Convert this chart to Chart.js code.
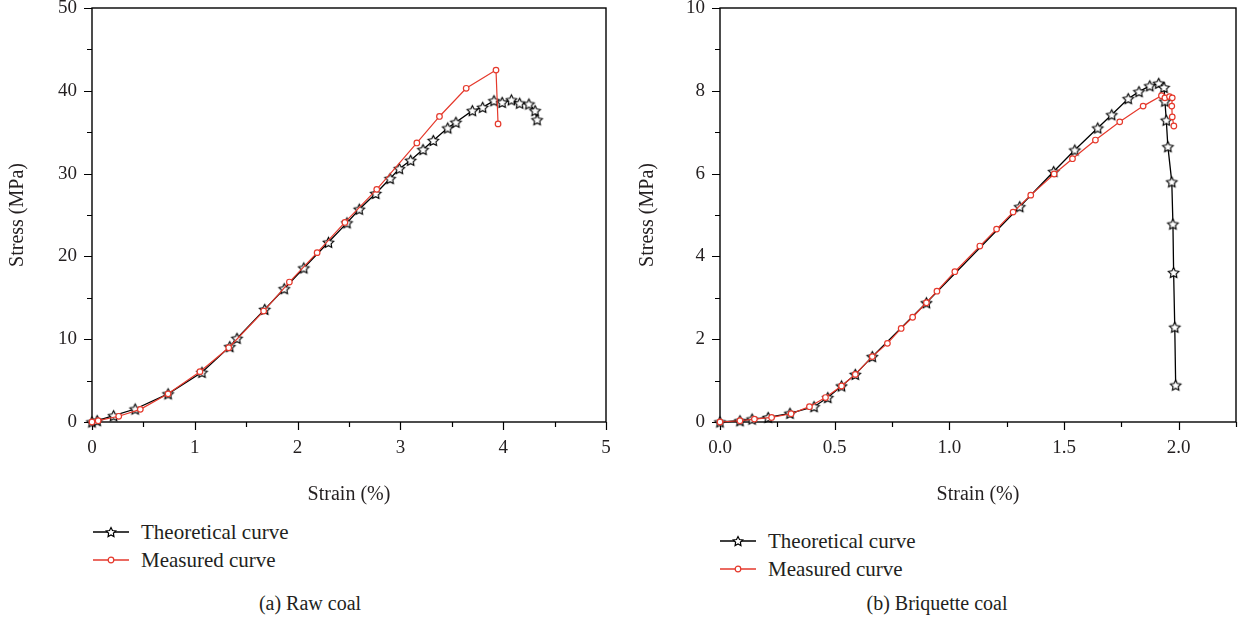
<!DOCTYPE html>
<html lang="en">
<head>
    <meta charset="UTF-8">
    <title>Stress-strain curves</title>
    <script src="https://cdn.jsdelivr.net/npm/chart.js"></script>
    <style>
        body { margin: 0; background: #fff; font-family: 'Liberation Serif', 'DejaVu Serif', serif; color: #231f20; }
        .page { position: relative; width: 1244px; height: 624px; overflow: hidden; }
        .box { position: absolute; top: 0; }
        .legend { position: absolute; font-size: 21px; }
        .legend .row { display: flex; align-items: center; height: 28px; }
        .legend svg { margin-right: 12px; }
        .caption { position: absolute; font-size: 20px; transform: translateX(-50%); white-space: nowrap; }
    </style>
</head>
<body>
<div class="page">
    <div class="box" style="left:0"><canvas id="rawChart" width="620" height="510"></canvas></div>
    <div class="box" style="left:620px"><canvas id="briqChart" width="624" height="510"></canvas></div>

    <!-- legends -->
    <div class="legend" style="left:93px; top:518px">
        <div class="row">
            <svg width="36" height="14"><line x1="0" y1="7" x2="36" y2="7" stroke="#000" stroke-width="1.3"/><polygon id="starA" fill="#fff" stroke="#000" stroke-width="1.2"/></svg>Theoretical curve
        </div>
        <div class="row">
            <svg width="36" height="14"><line x1="0" y1="7" x2="36" y2="7" stroke="#e5392c" stroke-width="1.3"/><circle cx="18" cy="7" r="2.8" fill="#fff" stroke="#e5392c" stroke-width="1.2"/></svg>Measured curve
        </div>
    </div>
    <div class="legend" style="left:720px; top:527px">
        <div class="row">
            <svg width="36" height="14"><line x1="0" y1="7" x2="36" y2="7" stroke="#000" stroke-width="1.3"/><polygon id="starB" fill="#fff" stroke="#000" stroke-width="1.2"/></svg>Theoretical curve
        </div>
        <div class="row">
            <svg width="36" height="14"><line x1="0" y1="7" x2="36" y2="7" stroke="#e5392c" stroke-width="1.3"/><circle cx="18" cy="7" r="2.8" fill="#fff" stroke="#e5392c" stroke-width="1.2"/></svg>Measured curve
        </div>
    </div>

    <div class="caption" style="left:310px; top:592px">(a) Raw coal</div>
    <div class="caption" style="left:937px; top:592px">(b) Briquette coal</div>
</div>

<script>
// (a) Raw coal
const rawTheoStrain = [0, 0.05, 0.21, 0.42, 0.74, 1.07, 1.34, 1.41, 1.68, 1.87, 2.06, 2.30, 2.48, 2.60, 2.76, 2.90, 2.99, 3.10, 3.22, 3.32, 3.46, 3.54, 3.70, 3.80, 3.91, 3.99, 4.08, 4.16, 4.25, 4.31, 4.33];
const rawTheoStress = [0, 0.16, 0.76, 1.57, 3.4, 6.0, 9.1, 10.1, 13.6, 16.1, 18.6, 21.7, 24.05, 25.7, 27.6, 29.4, 30.6, 31.6, 32.9, 34.0, 35.5, 36.2, 37.6, 38.0, 38.8, 38.6, 38.9, 38.5, 38.4, 37.6, 36.5];
const rawMeasStrain = [0, 0.06, 0.26, 0.47, 0.74, 1.05, 1.33, 1.67, 1.92, 2.19, 2.46, 2.77, 3.16, 3.38, 3.64, 3.93, 3.95];
const rawMeasStress = [0, 0.16, 0.69, 1.53, 3.4, 6.08, 8.97, 13.4, 16.9, 20.45, 24.1, 28.1, 33.7, 36.9, 40.3, 42.5, 36.0];

// (b) Briquette coal
const briqTheoStrain = [0, 0.087, 0.14, 0.21, 0.305, 0.41, 0.47, 0.53, 0.59, 0.664, 0.90, 1.307, 1.455, 1.547, 1.647, 1.708, 1.78, 1.827, 1.874, 1.913, 1.936, 1.94, 1.946, 1.953, 1.97, 1.975, 1.978, 1.983, 1.987];
const briqTheoStress = [0, 0.03, 0.07, 0.11, 0.21, 0.37, 0.59, 0.87, 1.15, 1.58, 2.88, 5.2, 6.05, 6.57, 7.1, 7.42, 7.81, 7.98, 8.12, 8.18, 8.08, 7.75, 7.29, 6.65, 5.8, 4.78, 3.61, 2.29, 0.89];
const briqMeasStrain = [0, 0.087, 0.15, 0.225, 0.31, 0.39, 0.46, 0.53, 0.59, 0.664, 0.73, 0.79, 0.84, 0.90, 0.946, 1.024, 1.133, 1.206, 1.278, 1.355, 1.457, 1.537, 1.637, 1.743, 1.845, 1.925, 1.94, 1.96, 1.972, 1.97, 1.972, 1.979];
const briqMeasStress = [0, 0.03, 0.07, 0.11, 0.2, 0.37, 0.59, 0.87, 1.15, 1.58, 1.9, 2.26, 2.53, 2.88, 3.16, 3.63, 4.25, 4.66, 5.07, 5.48, 5.99, 6.36, 6.81, 7.25, 7.63, 7.88, 7.83, 7.86, 7.83, 7.63, 7.37, 7.15];

const seriesNames = ["Theoretical curve", "Measured curve"];
const rawXTicks = [0, 1, 2, 3, 4, 5];
const rawYTicks = [0, 10, 20, 30, 40, 50];
const briqXTicks = [0, 0.5, 1.0, 1.5, 2.0];
const briqYTicks = [0, 2, 4, 6, 8, 10];

const RED = "#e5392c";
const FONT = "'Liberation Serif', 'DejaVu Serif', serif";
const TEXT = "#231f20";

function starPoints(cx, cy, r) {
    const pts = [];
    for (let i = 0; i < 10; i++) {
        const a = -Math.PI / 2 + i * Math.PI / 5;
        const rr = i % 2 ? r * 0.5 : r;
        pts.push([cx + rr * Math.cos(a), cy + rr * Math.sin(a)]);
    }
    return pts;
}

// star marker image for chart points
function makeStar(r) {
    const size = Math.ceil(r * 2 + 4);
    const c = document.createElement("canvas");
    c.width = c.height = size;
    const ctx = c.getContext("2d");
    ctx.beginPath();
    starPoints(size / 2, size / 2 + 0.5, r).forEach((p, i) => i ? ctx.lineTo(p[0], p[1]) : ctx.moveTo(p[0], p[1]));
    ctx.closePath();
    ctx.fillStyle = "#fff";
    ctx.fill();
    ctx.lineWidth = 1.15;
    ctx.strokeStyle = "#000";
    ctx.stroke();
    return c;
}
const starImg = makeStar(5.5);

// legend stars
["starA", "starB"].forEach(id => {
    document.getElementById(id).setAttribute("points", starPoints(18, 7.5, 5).map(p => p.join(",")).join(" "));
});

function toPoints(xs, ys) {
    return xs.map((x, i) => ({ x: x, y: ys[i] }));
}

// frame and ticks (major long, minor short)
const frameTicks = {
    id: "frameTicks",
    beforeDatasetsDraw(chart, args, opts) {
        const { ctx, chartArea: a, scales } = chart;
        const xs = scales.x, ys = scales.y;
        ctx.save();
        ctx.strokeStyle = "#000";
        ctx.lineWidth = 1.4;
        ctx.strokeRect(a.left, a.top, a.right - a.left, a.bottom - a.top);
        ctx.lineWidth = 1.2;
        ctx.beginPath();
        for (let v = xs.min; v <= xs.max + 1e-9; v += opts.xStep) {
            const major = Math.abs(v / opts.xMajor - Math.round(v / opts.xMajor)) < 1e-6;
            const px = Math.round(xs.getPixelForValue(v)) + 0.5;
            ctx.moveTo(px, a.bottom);
            ctx.lineTo(px, a.bottom + (major ? 8 : 5));
        }
        for (let v = ys.min; v <= ys.max + 1e-9; v += opts.yStep) {
            const major = Math.abs(v / opts.yMajor - Math.round(v / opts.yMajor)) < 1e-6;
            const py = Math.round(ys.getPixelForValue(v)) + 0.5;
            ctx.moveTo(a.left, py);
            ctx.lineTo(a.left - (major ? 8 : 5), py);
        }
        ctx.stroke();
        ctx.restore();
    }
};

function makeChart(id, theo, meas, cfg) {
    return new Chart(document.getElementById(id), {
        type: "scatter",
        data: {
            datasets: [
                {
                    label: seriesNames[0], data: theo, showLine: true, order: 2, clip: false,
                    borderColor: "#000", borderWidth: 1.3, pointStyle: starImg, pointRadius: 5,
                    backgroundColor: "#fff"
                },
                {
                    label: seriesNames[1], data: meas, showLine: true, order: 1, clip: false,
                    borderColor: RED, borderWidth: 1.2, pointStyle: "circle", pointRadius: 2.8,
                    pointBorderWidth: 1.2, pointBackgroundColor: "#fff", pointBorderColor: RED
                }
            ]
        },
        options: {
            responsive: false,
            animation: false,
            layout: { padding: { top: 8, right: cfg.padRight, left: 0, bottom: 0 } },
            plugins: {
                legend: { display: false },
                tooltip: { enabled: false },
                frameTicks: cfg.ticks
            },
            scales: {
                x: {
                    type: "linear", min: cfg.xMin, max: cfg.xMax,
                    grid: { display: false, drawTicks: false },
                    border: { display: false },
                    afterBuildTicks: s => { s.ticks = cfg.xTicks.map(v => ({ value: v })); },
                    ticks: {
                        padding: 15, color: TEXT, font: { family: FONT, size: 19 },
                        callback: v => v.toFixed(cfg.xDec)
                    },
                    title: { display: true, text: "Strain (%)", color: TEXT, font: { family: FONT, size: 20 }, padding: { top: 0, bottom: 3 } },
                    afterFit: s => { s.height = 88; s.paddingLeft = 0; s.paddingRight = 0; }
                },
                y: {
                    type: "linear", min: cfg.yMin, max: cfg.yMax,
                    grid: { display: false, drawTicks: false },
                    border: { display: false },
                    afterBuildTicks: s => { s.ticks = cfg.yTicks.map(v => ({ value: v })); },
                    ticks: {
                        padding: 15, color: TEXT, font: { family: FONT, size: 19 },
                        callback: v => String(v)
                    },
                    title: { display: true, text: "Stress (MPa)", color: TEXT, font: { family: FONT, size: 20 }, padding: { top: cfg.yTitlePad, bottom: 0 } },
                    afterFit: s => { s.width = cfg.yWidth; s.paddingTop = 0; s.paddingBottom = 0; }
                }
            }
        },
        plugins: [frameTicks]
    });
}

makeChart("rawChart", toPoints(rawTheoStrain, rawTheoStress), toPoints(rawMeasStrain, rawMeasStress), {
    xMin: 0, xMax: 5, yMin: 0, yMax: 50, xTicks: rawXTicks, yTicks: rawYTicks, xDec: 0,
    yWidth: 92, yTitlePad: 6, padRight: 14,
    ticks: { xStep: 0.5, xMajor: 1, yStep: 5, yMajor: 10 }
});

makeChart("briqChart", toPoints(briqTheoStrain, briqTheoStress), toPoints(briqMeasStrain, briqMeasStress), {
    xMin: 0, xMax: 2.25, yMin: 0, yMax: 10, xTicks: briqXTicks, yTicks: briqYTicks, xDec: 1,
    yWidth: 100, yTitlePad: 16, padRight: 8,
    ticks: { xStep: 0.25, xMajor: 0.5, yStep: 1, yMajor: 2 }
});
</script>
</body>
</html>
